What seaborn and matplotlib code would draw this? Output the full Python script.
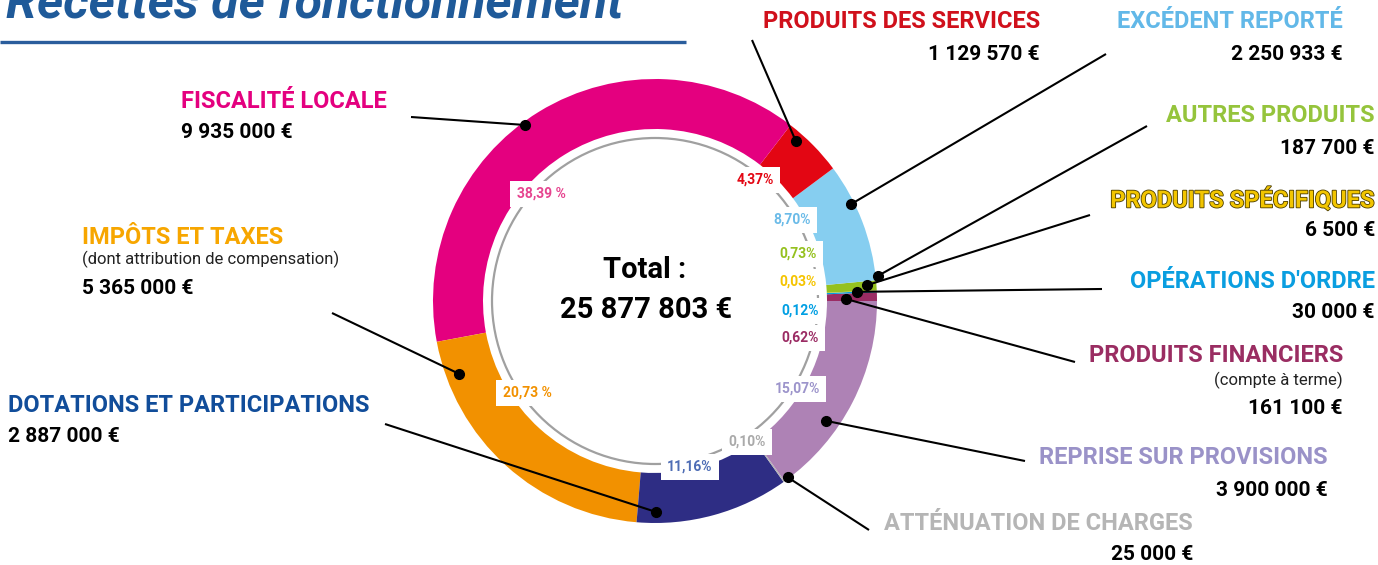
import matplotlib
matplotlib.use("Agg")
import matplotlib.pyplot as plt
import matplotlib.patheffects as pe
import numpy as np
import seaborn as sns

# data, in ring order (counter-clockwise from 3 o'clock)
categories = ["PRODUITS FINANCIERS", "OPÉRATIONS D'ORDRE", "PRODUITS SPÉCIFIQUES",
              "AUTRES PRODUITS", "EXCÉDENT REPORTÉ", "PRODUITS DES SERVICES",
              "FISCALITÉ LOCALE", "IMPÔTS ET TAXES", "DOTATIONS ET PARTICIPATIONS",
              "ATTÉNUATION DE CHARGES", "REPRISE SUR PROVISIONS"]
amounts = [161100, 30000, 6500, 187700, 2250933, 1129570,
           9935000, 5365000, 2887000, 25000, 3900000]
pct_suffix = ["%", "%", "%", "%", "%", "%", " %", " %", "%", "%", "%"]
subtitles = {"IMPÔTS ET TAXES": "(dont attribution de compensation)",
             "PRODUITS FINANCIERS": "(compte à terme)"}

ring_colors = ["#9B2C64", "#009FE3", "#F5C400", "#95C11F", "#86CEF0", "#E30613",
               "#E4007F", "#F29100", "#2E2D84", "#B2B2B2", "#AE82B5"]
name_colors = ["#9A2D62", "#0A9EE0", "#F2C500", "#95C43C", "#62B8E8", "#D0101B",
               "#E4007F", "#F7A600", "#114D9A", "#B5B5B5", "#9A92C8"]
pct_colors = ["#9B2C64", "#009FE3", "#F5C400", "#95C11F", "#6BBBE8", "#E30613",
              "#E6448F", "#F29100", "#4E6DB5", "#AAAAAA", "#9C94CB"]

# layout (image pixels, y from top)
name_pos = [(1343, 356, "right"), (1375, 281, "right"), (1375, 200, "right"),
            (1375, 116, "right"), (1343, 22, "right"), (1040, 22, "right"),
            (181, 102, "left"), (82, 238, "left"), (8, 406, "left"),
            (1193, 523, "right"), (1328, 457, "right")]
amount_y = [408, 312, 230, 148, 55, 54, 133, 288, 437, 555, 490]
line_end = [(1075, 362), (1102, 289), (1090, 215), (1147, 126), (1106, 54), (752, 40),
            (411, 117), (332, 313), (385, 424), (869, 530), (1025, 461)]
anchor_deg = [0.6, 2.6, 4.3, 6.4, 26.3, 48.6, 126.5, 200.4, 270.3, 307, 325]
anchor_rad = [191, 202, 213, 224, 219, 213, 219, 209, 211, 221, 209]
pct_pos = [(800, 338), (800, 311), (798, 282), (798, 254), (792, 220), (755, 180),
           (541, 194), (527, 393), (690, 467), (747, 442), (797, 389)]

W, H = 1378, 565
CX, CY, R, RING = 655, 301, 222, 50


def P(x, y):
    return x, H - y


sns.set_theme(style="white")
plt.rcParams["font.family"] = ["Roboto", "DejaVu Sans"]

fig = plt.figure(figsize=(W / 100, H / 100), dpi=100)
ax = fig.add_axes([0, 0, 1, 1])

total = sum(amounts)
wedges, _ = ax.pie(amounts, colors=ring_colors, startangle=0, counterclock=True,
                   radius=R, center=P(CX, CY),
                   wedgeprops=dict(width=RING, linewidth=0))
ax.set_xlim(0, W)
ax.set_ylim(0, H)
ax.set_aspect("equal")
ax.axis("off")

# thin grey inner circle
ax.add_patch(plt.Circle(P(CX, CY), 163, fill=False, color="#A0A0A0", lw=1.6, zorder=3))

cx, cy = P(CX, CY)
for i, cat in enumerate(categories):
    ang = np.deg2rad(anchor_deg[i])
    dx, dy = cx + anchor_rad[i] * np.cos(ang), cy + anchor_rad[i] * np.sin(ang)
    ex, ey = P(*line_end[i])
    ax.plot([dx, ex], [dy, ey], color="black", lw=1.5, zorder=5, solid_capstyle="butt")
    ax.plot(dx, dy, "o", color="black", ms=7, zorder=6)

    nx, ny, ha = name_pos[i]
    t = ax.text(*P(nx, ny), cat, color=name_colors[i], fontsize=17, fontweight="bold",
                ha=ha, va="center", zorder=7)
    if cat == "PRODUITS SPÉCIFIQUES":
        t.set_path_effects([pe.withStroke(linewidth=1.2, foreground="#4A3C00")])
    if cat in subtitles:
        sy = ny + (24 if cat == "PRODUITS FINANCIERS" else 21)
        ax.text(*P(nx, sy), subtitles[cat], color="#222222", fontsize=12,
                ha=ha, va="center", zorder=7)
    amt = f"{amounts[i]:,}".replace(",", " ") + " €"
    ax.text(*P(nx, amount_y[i]), amt, color="black", fontsize=15, fontweight="bold",
            ha=ha, va="center", zorder=7)

    pct = f"{100 * amounts[i] / total:.2f}".replace(".", ",") + pct_suffix[i]
    ax.text(*P(*pct_pos[i]), pct, color=pct_colors[i], fontsize=10, fontweight="bold",
            ha="center", va="center", zorder=8,
            bbox=dict(boxstyle="square,pad=0.45", fc="white", ec="none"))

# centre total
ax.text(*P(645, 270), "Total :", fontsize=21, fontweight="bold", ha="center",
        va="center", color="black")
ax.text(*P(646, 310), "25 877 803 €", fontsize=21, fontweight="bold", ha="center",
        va="center", color="black")

# title (cut at the top edge, as in the source) and rule
ax.text(*P(6, 18), "Recettes de fonctionnement", fontsize=36, fontweight="bold",
        fontstyle="italic", color="#1F5A99", ha="left", va="baseline")
ax.plot([0, 686], [H - 42, H - 42], color="#2A5D9C", lw=2.4, solid_capstyle="butt")

fig.savefig("out.png", dpi=100)
